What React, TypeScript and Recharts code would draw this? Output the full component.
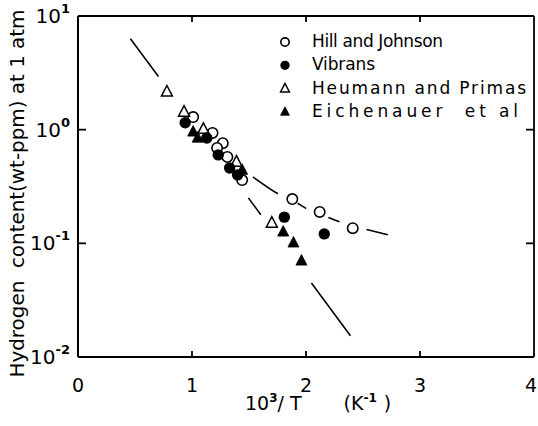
import React from 'react';
import { ComposedChart, Scatter, Line, XAxis, YAxis, Legend, Label } from 'recharts';

const FONT = '"DejaVu Sans", Verdana, sans-serif';
const INK = '#000';

const CHART_W = 538;
const CHART_H = 426;
const MARGIN = { top: 16, right: 4, bottom: 0, left: 0 };
const X_AXIS_H = 69;
const Y_AXIS_W = 78;
const PLOT_W = CHART_W - MARGIN.left - MARGIN.right - Y_AXIS_W;
const PLOT_H = CHART_H - MARGIN.top - MARGIN.bottom - X_AXIS_H;

const xTicks = [0, 1, 2, 3, 4];
const xInnerTicks = [1, 2, 3];
const yTicks = [0.01, 0.1, 1, 10];
const yInnerTicks = [0.1, 1];

// x = 10^3/T (K^-1), y = hydrogen content (wt-ppm)
const hillJohnson = [
  { x: 1.01, y: 1.29 },
  { x: 1.18, y: 0.935 },
  { x: 1.27, y: 0.76 },
  { x: 1.22, y: 0.69 },
  { x: 1.31, y: 0.575 },
  { x: 1.44, y: 0.36 },
  { x: 1.88, y: 0.245 },
  { x: 2.12, y: 0.189 },
  { x: 2.41, y: 0.136 },
];

const vibrans = [
  { x: 0.94, y: 1.15 },
  { x: 1.13, y: 0.845 },
  { x: 1.23, y: 0.6 },
  { x: 1.33, y: 0.46 },
  { x: 1.4, y: 0.4 },
  { x: 1.81, y: 0.17 },
  { x: 2.16, y: 0.121 },
];

const heumannPrimas = [
  { x: 0.78, y: 2.15 },
  { x: 0.93, y: 1.43 },
  { x: 1.1, y: 1.01 },
  { x: 1.39, y: 0.52 },
  { x: 1.7, y: 0.151 },
];

const eichenauer = [
  { x: 1.01, y: 0.955 },
  { x: 1.05, y: 0.845 },
  { x: 1.44, y: 0.44 },
  { x: 1.8, y: 0.126 },
  { x: 1.89, y: 0.101 },
  { x: 1.96, y: 0.07 },
];

// long-dashed straight line through all the data
const steepFit = [
  { x: 0.46, y: 6.3 },
  { x: 2.39, y: 0.0154 },
];

// short-dashed curve through Hill and Johnson at low temperature
const hillCurve = [
  { x: 1.535, y: 0.384 },
  { x: 1.77, y: 0.267 },
  { x: 1.95, y: 0.218 },
  { x: 2.02, y: 0.197 },
  { x: 2.23, y: 0.164 },
  { x: 2.32, y: 0.151 },
  { x: 2.55, y: 0.131 },
  { x: 2.72, y: 0.119 },
];

type MarkerKind = 'openCircle' | 'filledCircle' | 'openTriangle' | 'filledTriangle';

const series: Array<{ name: string; data: Array<{ x: number; y: number }>; marker: MarkerKind }> = [
  { name: 'Hill and Johnson', data: hillJohnson, marker: 'openCircle' },
  { name: 'Vibrans', data: vibrans, marker: 'filledCircle' },
  { name: 'Heumann and Primas', data: heumannPrimas, marker: 'openTriangle' },
  { name: 'Eichenauer  et al', data: eichenauer, marker: 'filledTriangle' },
];

// drawn order: open markers under the filled ones
const drawOrder = [0, 2, 1, 3];

// width of each legend label in the original lettering
const legendTextWidth: Record<string, number> = {
  'Hill and Johnson': 131,
  'Vibrans': 63,
  'Heumann and Primas': 214,
  'Eichenauer  et al': 206,
};

const drawMarker = (kind: MarkerKind, cx: number, cy: number, scale = 1) => {
  const r = 5.2 * scale;
  const s = 11 * scale;
  const tri = `M${cx},${cy - s * 0.58} L${cx + s / 2},${cy + s * 0.38} L${cx - s / 2},${cy + s * 0.38} Z`;
  switch (kind) {
    case 'openCircle':
      return <circle cx={cx} cy={cy} r={r} fill="#fff" stroke={INK} strokeWidth={1.6} />;
    case 'filledCircle':
      return <circle cx={cx} cy={cy} r={r + 0.5} fill={INK} />;
    case 'openTriangle':
      return <path d={tri} fill="#fff" stroke={INK} strokeWidth={1.5} strokeLinejoin="miter" />;
    case 'filledTriangle':
      return <path d={tri} fill={INK} stroke={INK} strokeWidth={0.8} />;
    default:
      return null;
  }
};

const X_TICK_MARGIN = 28;
const Y_TICK_MARGIN = 8;

// bottom labels, inward ticks on bottom and top, and the right side of the box
const BottomTick = (props: any) => {
  const { x, y, payload } = props;
  const axisY = y - X_TICK_MARGIN;
  const topY = axisY - PLOT_H;
  const last = payload.value === xTicks[xTicks.length - 1];
  const inner = xInnerTicks.includes(payload.value);
  return (
    <g>
      {inner && <path d={`M${x},${axisY} L${x},${axisY - 6}`} stroke={INK} strokeWidth={1.8} fill="none" />}
      {inner && <path d={`M${x},${topY} L${x},${topY + 6}`} stroke={INK} strokeWidth={1.8} fill="none" />}
      {last && <path d={`M${x},${axisY} L${x},${topY}`} stroke={INK} strokeWidth={1.8} fill="none" />}
      <text
        x={last ? x + 3 : x}
        y={y}
        dy={7}
        textAnchor={last ? 'end' : 'middle'}
        fontFamily={FONT}
        fontSize={19}
        fill={INK}
      >
        {payload.value}
      </text>
    </g>
  );
};

// left labels, inward ticks on left and right, and the top side of the box
const LeftTick = (props: any) => {
  const { x, y, payload } = props;
  const exp = Math.round(Math.log10(payload.value));
  const axisX = x + Y_TICK_MARGIN;
  const rightX = axisX + PLOT_W;
  const inner = yInnerTicks.includes(payload.value);
  const top = payload.value === yTicks[yTicks.length - 1];
  return (
    <g>
      {inner && <path d={`M${axisX},${y} L${axisX + 8},${y}`} stroke={INK} strokeWidth={1.8} fill="none" />}
      {inner && <path d={`M${rightX},${y} L${rightX - 8},${y}`} stroke={INK} strokeWidth={1.8} fill="none" />}
      {top && <path d={`M${axisX},${y} L${rightX},${y}`} stroke={INK} strokeWidth={1.8} fill="none" />}
      <text x={x} y={y} dy={7} textAnchor="end" fontFamily={FONT} fontSize={20} fill={INK}>
        10
        <tspan dy={-10} fontSize={13} fontWeight="bold">
          {exp}
        </tspan>
      </text>
    </g>
  );
};

const XTitle = (props: any) => {
  const { viewBox } = props;
  const x = viewBox.x + 167;
  const y = viewBox.y + 53;
  return (
    <text x={x} y={y} fontFamily={FONT} fontSize={19} fill={INK}>
      10
      <tspan dy={-8} fontSize={12} fontWeight="bold">3</tspan>
      <tspan dy={8}>/ T</tspan>
      <tspan dx={42}>(K</tspan>
      <tspan dy={-8} fontSize={12} fontWeight="bold">-1</tspan>
      <tspan dy={8} dx={7}>)</tspan>
    </text>
  );
};

const YTitle = (props: any) => {
  const { viewBox } = props;
  const cx = viewBox.x + 24;
  const cy = viewBox.y + viewBox.height / 2 + 7;
  return (
    <text
      x={cx}
      y={cy}
      transform={`rotate(-90 ${cx} ${cy})`}
      textAnchor="middle"
      fontFamily={FONT}
      fontSize={19}
      fill={INK}
      textLength={368}
      lengthAdjust="spacingAndGlyphs"
      style={{ whiteSpace: 'pre' }}
    >
      Hydrogen  content(wt-ppm) at 1 atm
    </text>
  );
};

const LegendBox = () => (
  <svg width={262} height={110}>
    {series.map((s, i) => {
      const base = 27 + i * 23.3;
      return (
        <g key={s.name}>
          {drawMarker(s.marker, 15, base - 5, 0.8)}
          <text
            x={42}
            y={base}
            fontFamily={FONT}
            fontSize={17}
            fill={INK}
            textLength={legendTextWidth[s.name]}
            lengthAdjust="spacing"
            style={{ whiteSpace: 'pre' }}
          >
            {s.name}
          </text>
        </g>
      );
    })}
  </svg>
);

const App: React.FC = () => {
  return (
    <div style={{ position: 'absolute', left: 0, top: 0, background: '#fff' }}>
      <ComposedChart width={CHART_W} height={CHART_H} margin={MARGIN}>
        <XAxis
          dataKey="x"
          type="number"
          domain={[0, 4]}
          ticks={xTicks}
          interval={0}
          height={X_AXIS_H}
          tickLine={false}
          tickSize={0}
          tickMargin={X_TICK_MARGIN}
          tick={BottomTick}
          axisLine={{ stroke: INK, strokeWidth: 2 }}
        >
          <Label content={XTitle} />
        </XAxis>
        <YAxis
          dataKey="y"
          type="number"
          scale="log"
          domain={[0.01, 10]}
          ticks={yTicks}
          interval={0}
          width={Y_AXIS_W}
          tickLine={false}
          tickSize={0}
          tickMargin={Y_TICK_MARGIN}
          tick={LeftTick}
          axisLine={{ stroke: INK, strokeWidth: 2 }}
        >
          <Label content={YTitle} />
        </YAxis>

        <Legend
          layout="vertical"
          align="center"
          verticalAlign="middle"
          content={LegendBox}
          wrapperStyle={{ position: 'absolute', left: 270, top: 20, width: 262, height: 110 }}
        />

        <Line
          data={steepFit}
          dataKey="y"
          type="linear"
          stroke={INK}
          strokeWidth={1.6}
          strokeDasharray="47 13 8 130 21 85 66"
          dot={false}
          legendType="none"
          isAnimationActive={false}
        />
        <Line
          data={hillCurve}
          dataKey="y"
          type="monotone"
          stroke={INK}
          strokeWidth={1.6}
          strokeDasharray="30 22 10 24 12 28 22"
          dot={false}
          legendType="none"
          isAnimationActive={false}
        />
        {drawOrder.map((i) => {
          const s = series[i];
          return (
            <Scatter
              key={s.name}
              name={s.name}
              data={s.data}
              shape={(p: any) => drawMarker(s.marker, p.cx, p.cy)}
              isAnimationActive={false}
            />
          );
        })}
      </ComposedChart>
    </div>
  );
};

export default App;
